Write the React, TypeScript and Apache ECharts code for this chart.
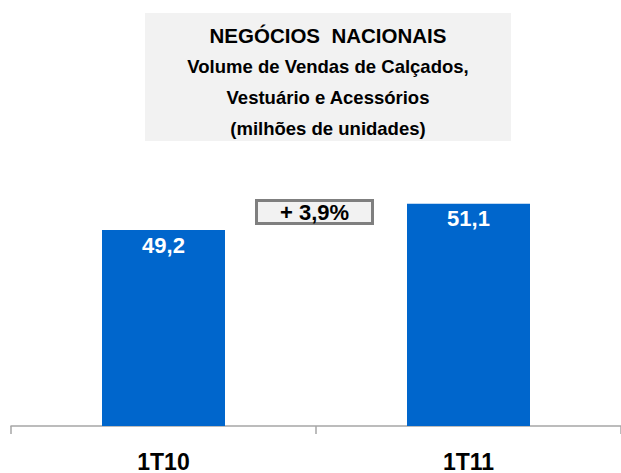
import React, { useEffect, useRef } from "react";
import * as echarts from "echarts";

const categories = ["1T10", "1T11"];
const values = [49.2, 51.1];
const valueLabels = ["49,2", "51,1"];
const titleLines = [
  "NEGÓCIOS  NACIONAIS",
  "Volume de Vendas de Calçados,",
  "Vestuário e Acessórios",
  "(milhões de unidades)",
];
const growthLabel = "+ 3,9%";

const FONT = "Liberation Sans, Arial, sans-serif";

export default function App() {
  const ref = useRef<HTMLDivElement>(null);
  useEffect(() => {
    document.body.style.margin = "0";
    const chart = echarts.init(ref.current!, undefined, { renderer: "svg" });
    chart.setOption({
      animation: false,
      grid: { left: 11, right: -3, top: 150, bottom: 46, containLabel: false },
      xAxis: {
        type: "category",
        data: categories,
        axisLine: { show: true, lineStyle: { color: "#a6a6a6", width: 1.5 } },
        axisTick: { show: true, length: 8, lineStyle: { color: "#a6a6a6", width: 1.5 } },
        axisLabel: {
          color: "#000",
          fontFamily: FONT,
          fontWeight: "bold",
          fontSize: 23,
          margin: 24,
        },
      },
      yAxis: { type: "value", min: 35, max: 55, show: false, splitLine: { show: false } },
      series: [
        {
          type: "bar",
          data: values,
          barWidth: 123,
          itemStyle: { color: "#0066cc" },
          label: {
            show: true,
            position: "insideTop",
            distance: 4,
            color: "#fff",
            fontFamily: FONT,
            fontWeight: "bold",
            fontSize: 22,
            formatter: (p: any) => valueLabels[p.dataIndex],
          },
        },
      ],
      graphic: [
        {
          type: "rect",
          shape: { x: 145, y: 13, width: 366, height: 128 },
          style: { fill: "#f2f2f2" },
          z: 0,
        },
        ...titleLines.map((t, i) => ({
          type: "text",
          x: 328,
          y: 35 + i * 31,
          style: {
            text: t,
            fill: "#000",
            font: `bold ${i === 0 ? 20.5 : 18.5}px ${FONT}`,
            textAlign: "center",
            textVerticalAlign: "middle",
          },
          z: 1,
        })),
        {
          type: "rect",
          shape: { x: 256.5, y: 200.5, width: 116, height: 23 },
          style: { fill: "#f2f2f2", stroke: "#7f7f7f", lineWidth: 3 },
          z: 1,
        },
        {
          type: "text",
          x: 314.5,
          y: 212.5,
          style: {
            text: growthLabel,
            fill: "#000",
            font: `bold 22px ${FONT}`,
            textAlign: "center",
            textVerticalAlign: "middle",
          },
          z: 2,
        },
      ],
    });
    return () => chart.dispose();
  }, []);
  return <div ref={ref} style={{ width: 621, height: 473 }} />;
}
